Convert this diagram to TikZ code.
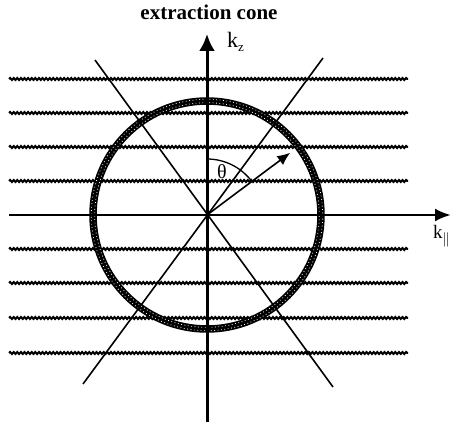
\documentclass[tikz,border=0pt]{standalone}
\usepackage{fontspec}
\setmainfont{Liberation Serif}
\usetikzlibrary{arrows.meta,decorations.pathmorphing,calc}
\begin{document}
\begin{tikzpicture}[x=1pt,y=1pt,
  wave/.style={line width=2pt,decorate,decoration={snake,amplitude=1pt,segment length=3.6pt}},
  axis/.style={line width=2.8pt},
  cone/.style={line width=1.6pt},
  lbl/.style={inner sep=0pt}]
\useasboundingbox (0,0) rectangle (451,-425);
% origin and axis ends
\coordinate (O) at (207,-215);
\coordinate (zb) at (207,-422);
\coordinate (zt) at (207,-34);
\coordinate (xl) at (9,-215);
\coordinate (xr) at (451,-215);
% wavy lines
\foreach \y [count=\i] in {79,113,147,181,249,283,318,353}{
  \coordinate (wl\i) at (9,-\y);
  \coordinate (wr\i) at (408,-\y);
  \draw[wave] (wl\i) -- (wr\i);
}
% ring
\draw[line width=7.5pt] (O) circle[radius=114];
\draw[white,line width=0.8pt,dash pattern=on 0.8pt off 2.6pt] (O) circle[radius=112.3];
\draw[white,line width=0.8pt,dash pattern=on 0.8pt off 2.6pt,dash phase=1.7pt] (O) circle[radius=115.7];
% cone lines
\coordinate (ul) at (95,-60);
\coordinate (lr) at (333,-387);
\coordinate (ur) at (323,-58);
\coordinate (ll) at (83,-384);
\draw[cone] (ul) -- (lr);
\draw[cone] (ur) -- (ll);
% axes
\draw[axis,line width=3pt,-{Latex[length=17pt,width=16pt]}] (zb) -- (zt);
\draw[axis,line width=2.6pt,-{Latex[length=16pt,width=13pt]}] (xl) -- (xr);
% theta arrow and arc
\coordinate (tip) at ($(O)+(36.8:104)$);
\coordinate (arcs) at ($(O)+(90:56)$);
\draw[cone,-{Latex[length=13pt,width=11pt]}] (O) -- (tip);
\draw[line width=1.3pt] (arcs) arc[start angle=90,end angle=36.8,radius=56];
% labels
\node[inner sep=0pt] (title) at (209,-12) {\resizebox{137pt}{!}{\fontsize{15}{15}\selectfont\bfseries extraction cone}};
\node[lbl,anchor=west] (kz) at (227,-42) {\fontsize{22}{22}\selectfont k\raisebox{-4pt}{\fontsize{13}{13}\selectfont z}};
\node[lbl,anchor=west] (kp) at (433,-236) {\fontsize{19}{19}\selectfont k\raisebox{-5pt}{$\scriptstyle\|$}};
\node[lbl] (th) at (222,-172) {\fontsize{20}{20}\selectfont θ};
\end{tikzpicture}
\end{document}
